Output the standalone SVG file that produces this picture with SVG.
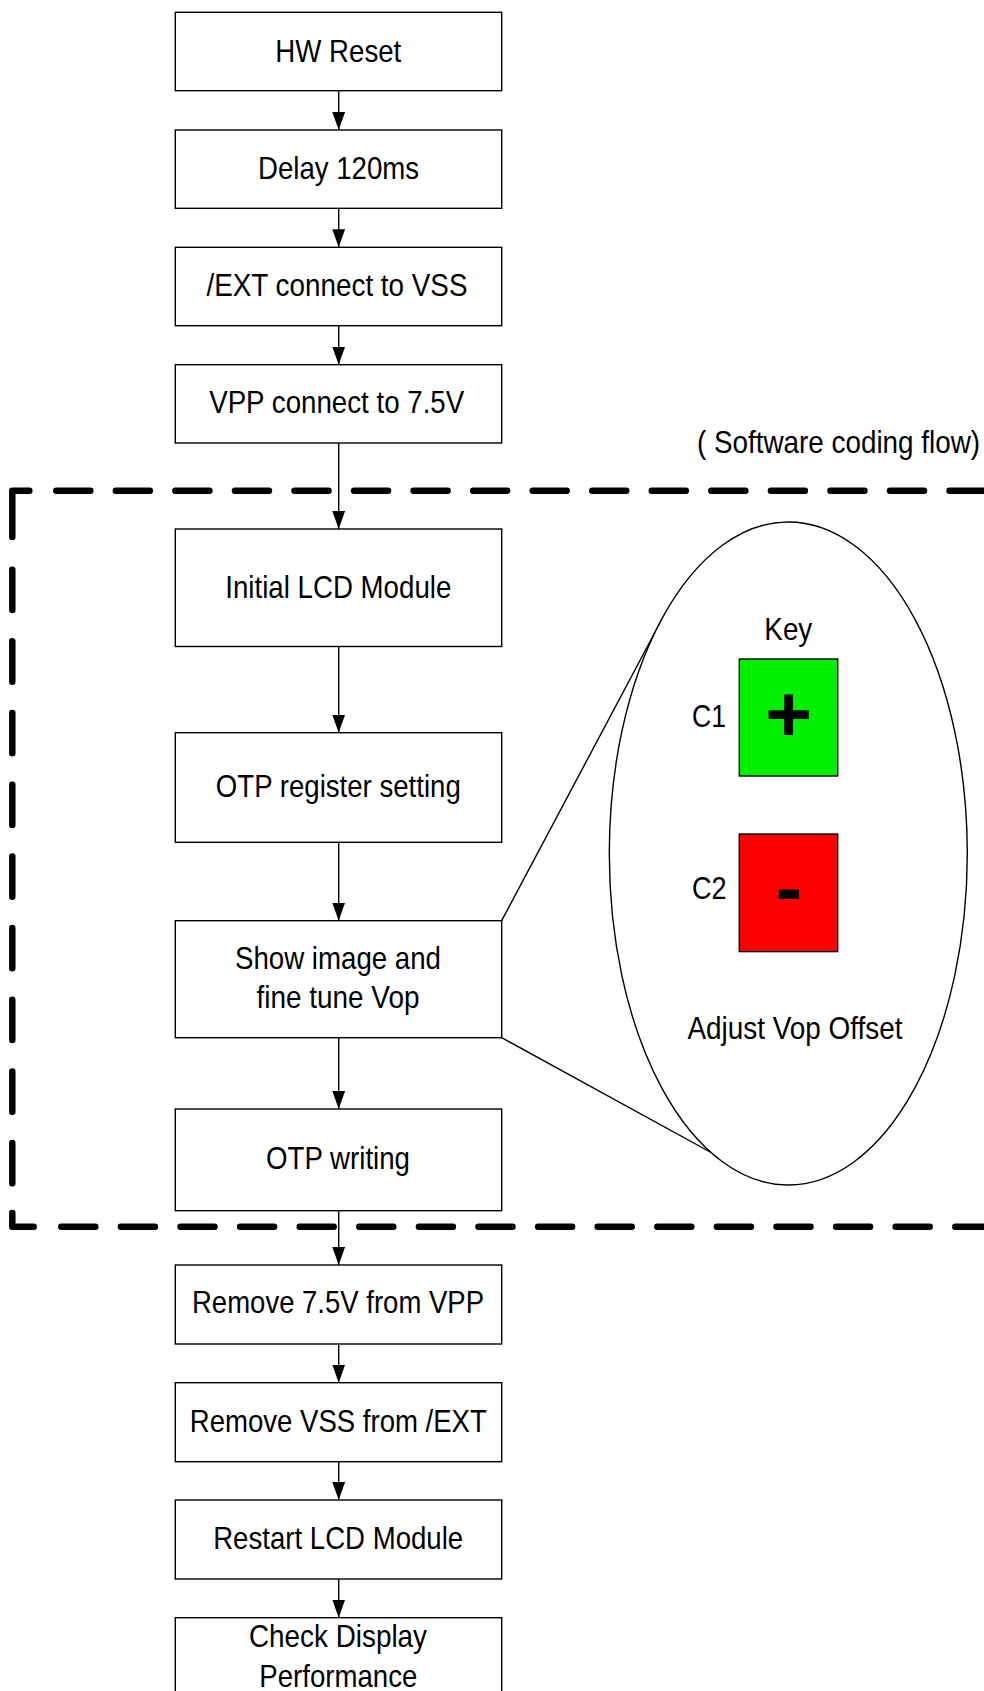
<svg xmlns="http://www.w3.org/2000/svg" width="984" height="1691" viewBox="0 0 984 1691">
<style>
.box{fill:#fff;stroke:#000;stroke-width:1.4}
.t{font-family:"Liberation Sans Narrow","Arial Narrow","Liberation Sans",Arial,sans-serif;font-size:32px;fill:#000;text-anchor:middle}
.l{text-anchor:start}
.e{text-anchor:end}
.c{fill:none;stroke:#000;stroke-width:1.4}
.d{fill:none;stroke:#000;stroke-width:6.5;stroke-linecap:round;stroke-linejoin:round}
.sym{font-family:"Liberation Sans Narrow","Arial Narrow","Liberation Sans",Arial,sans-serif;font-weight:bold;font-size:80px;fill:#000;text-anchor:middle}
</style>
<defs>
<marker id="ah" markerUnits="userSpaceOnUse" markerWidth="18" markerHeight="13" refX="18" refY="6.4" orient="auto">
<path d="M0,0 L18,6.4 L0,12.8 z" fill="#000"/>
</marker>
</defs>
<rect width="984" height="1691" fill="#fff"/>

<g id="region">
<path class="d" d="M12.3,537 L12.3,490.7 L29.3,490.7"/>
<path class="d" d="M56.3,490.7 L990,490.7" stroke-dasharray="34 25.55"/>
<path class="d" d="M12.3,569.7 L12.3,1186" stroke-dasharray="40.3 31.37"/>
<path class="d" d="M12.3,1213 L12.3,1226.7 L33.7,1226.7"/>
<path class="d" d="M61.3,1226.7 L990,1226.7" stroke-dasharray="34 25.6"/>
<text class="t e" x="980" y="453.3" textLength="283" lengthAdjust="spacingAndGlyphs">( Software coding flow)</text>
</g>

<g id="connectors">
<line class="c" x1="338.7" y1="90.7" x2="338.7" y2="130" marker-end="url(#ah)"/>
<line class="c" x1="338.7" y1="208.3" x2="338.7" y2="247.3" marker-end="url(#ah)"/>
<line class="c" x1="338.7" y1="325.7" x2="338.7" y2="364.7" marker-end="url(#ah)"/>
<line class="c" x1="338.7" y1="443" x2="338.7" y2="529" marker-end="url(#ah)"/>
<line class="c" x1="338.7" y1="646.5" x2="338.7" y2="732.7" marker-end="url(#ah)"/>
<line class="c" x1="338.7" y1="842.3" x2="338.7" y2="920.7" marker-end="url(#ah)"/>
<line class="c" x1="338.7" y1="1037.7" x2="338.7" y2="1109" marker-end="url(#ah)"/>
<line class="c" x1="338.7" y1="1210.7" x2="338.7" y2="1265" marker-end="url(#ah)"/>
<line class="c" x1="338.7" y1="1344" x2="338.7" y2="1382.7" marker-end="url(#ah)"/>
<line class="c" x1="338.7" y1="1461.7" x2="338.7" y2="1500" marker-end="url(#ah)"/>
<line class="c" x1="338.7" y1="1579" x2="338.7" y2="1617.7" marker-end="url(#ah)"/>
<line class="c" x1="501.7" y1="920.7" x2="662" y2="619"/>
<line class="c" x1="501.7" y1="1037.7" x2="712" y2="1153"/>
</g>

<g id="n1"><rect class="box" x="175.3" y="12.3" width="326.4" height="78.4"/><text class="t" x="338.3" y="62.3" textLength="126" lengthAdjust="spacingAndGlyphs">HW Reset</text></g>
<g id="n2"><rect class="box" x="175.3" y="130" width="326.4" height="78.3"/><text class="t" x="338.5" y="179.3" textLength="161" lengthAdjust="spacingAndGlyphs">Delay 120ms</text></g>
<g id="n3"><rect class="box" x="175.3" y="247.3" width="326.4" height="78.4"/><text class="t" x="337" y="296" textLength="261" lengthAdjust="spacingAndGlyphs">/EXT connect to VSS</text></g>
<g id="n4"><rect class="box" x="175.3" y="364.7" width="326.4" height="78.3"/><text class="t" x="336.7" y="413.3" textLength="255" lengthAdjust="spacingAndGlyphs">VPP connect to 7.5V</text></g>
<g id="n5"><rect class="box" x="175.3" y="529" width="326.4" height="117.5"/><text class="t" x="338.3" y="598" textLength="226" lengthAdjust="spacingAndGlyphs">Initial LCD Module</text></g>
<g id="n6"><rect class="box" x="175.3" y="732.7" width="326.4" height="109.6"/><text class="t" x="338.3" y="797" textLength="245" lengthAdjust="spacingAndGlyphs">OTP register setting</text></g>
<g id="n7"><rect class="box" x="175.3" y="920.7" width="326.4" height="117"/><text class="t" x="338" y="969.3" textLength="206" lengthAdjust="spacingAndGlyphs">Show image and</text><text class="t" x="338" y="1008.3" textLength="163" lengthAdjust="spacingAndGlyphs">fine tune Vop</text></g>
<g id="n8"><rect class="box" x="175.3" y="1109" width="326.4" height="101.7"/><text class="t" x="338" y="1168.5" textLength="144" lengthAdjust="spacingAndGlyphs">OTP writing</text></g>
<g id="n9"><rect class="box" x="175.3" y="1265" width="326.4" height="79"/><text class="t" x="338" y="1313.3" textLength="292" lengthAdjust="spacingAndGlyphs">Remove 7.5V from VPP</text></g>
<g id="n10"><rect class="box" x="175.3" y="1382.7" width="326.4" height="79"/><text class="t" x="338.3" y="1431.7" textLength="297" lengthAdjust="spacingAndGlyphs">Remove VSS from /EXT</text></g>
<g id="n11"><rect class="box" x="175.3" y="1500" width="326.4" height="79"/><text class="t" x="338.2" y="1549" textLength="250" lengthAdjust="spacingAndGlyphs">Restart LCD Module</text></g>
<g id="n12"><rect class="box" x="175.3" y="1617.7" width="326.4" height="100"/><text class="t" x="338" y="1646.7" textLength="178" lengthAdjust="spacingAndGlyphs">Check Display</text><text class="t" x="338.3" y="1686.7" textLength="158" lengthAdjust="spacingAndGlyphs">Performance</text></g>

<g id="callout">
<ellipse cx="788.3" cy="853.5" rx="179" ry="331.5" fill="#fff" stroke="#000" stroke-width="1.4"/>
<text class="t" x="788.3" y="640" textLength="48" lengthAdjust="spacingAndGlyphs">Key</text>
<text class="t l" x="692" y="727" textLength="34" lengthAdjust="spacingAndGlyphs">C1</text>
<rect x="739.3" y="659" width="98.4" height="117" fill="#00f000" stroke="#000" stroke-width="1.4"/>
<text class="sym" x="788.7" y="740.8">+</text>
<text class="t l" x="692" y="898.6" textLength="34.5" lengthAdjust="spacingAndGlyphs">C2</text>
<rect x="739.3" y="834" width="98.4" height="117.6" fill="#ff0000" stroke="#000" stroke-width="1.4"/>
<text class="sym" x="788.7" y="914.8">-</text>
<text class="t" x="795" y="1039" textLength="215" lengthAdjust="spacingAndGlyphs">Adjust Vop Offset</text>
</g>
</svg>
